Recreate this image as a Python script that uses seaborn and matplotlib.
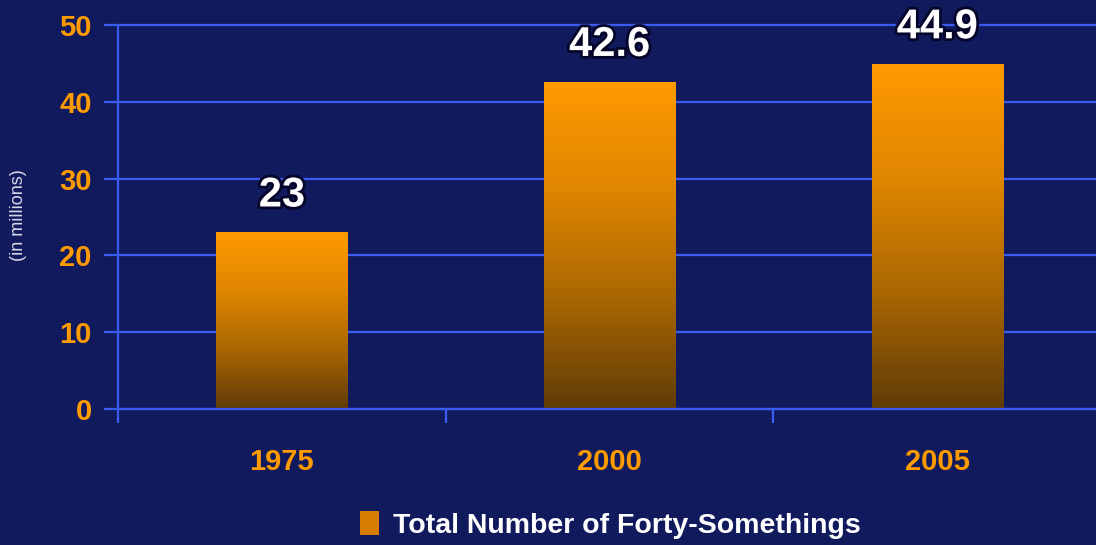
import numpy as np
import pandas as pd
import matplotlib
matplotlib.use('Agg')
import matplotlib.pyplot as plt
import matplotlib.patheffects as pe
from matplotlib.colors import LinearSegmentedColormap
from matplotlib.patches import Patch
import seaborn as sns

# data
years = ['1975', '2000', '2005']
counts = [23, 42.6, 44.9]
value_labels = ['23', '42.6', '44.9']
series_name = 'Total Number of Forty-Somethings'

df = pd.DataFrame({'year': years, 'count': counts})

bg = '#111a5c'
grid_blue = '#3a5cf0'
orange = '#ff9a00'

sns.set_theme(style='dark')
plt.rcParams['font.family'] = ['Liberation Sans', 'DejaVu Sans']

fig = plt.figure(figsize=(10.96, 5.45), dpi=100, facecolor=bg)
ax = fig.add_axes([0.1077, 0.2495, 0.897, 0.7046])
ax.set_facecolor(bg)

sns.barplot(data=df, x='year', y='count', color=orange, width=0.4,
            saturation=1, ax=ax, zorder=3)

# gradient fill: bright orange at top, dark brown at bottom
cmap = LinearSegmentedColormap.from_list('bar', ['#603c08', '#a86602', '#e08600', '#ff9a00'])
grad = np.linspace(0, 1, 256).reshape(-1, 1)
for bar in ax.patches:
    x0, y0 = bar.get_x(), bar.get_y()
    w, h = bar.get_width(), bar.get_height()
    im = ax.imshow(grad, cmap=cmap, aspect='auto', origin='lower',
                   extent=[x0, x0 + w, y0, y0 + h], zorder=4)
    im.set_clip_path(bar)
    bar.set_edgecolor('none')

for i, (v, lab) in enumerate(zip(counts, value_labels)):
    ax.text(i, v + 2.2, lab, ha='center', va='bottom', color='white',
            fontsize=30, fontweight='bold', zorder=6,
            path_effects=[pe.withStroke(linewidth=4, foreground='#05052a')])

ax.set_xlim(-0.5, 2.5)
ax.set_ylim(0, 50)
ax.set_yticks(range(0, 51, 10))
ax.set_xticks([-0.5, 0.5, 1.5, 2.5])
ax.set_xticklabels([])
for i, y in enumerate(years):
    ax.text(i, -6.9, y, ha='center', va='center', color=orange,
            fontsize=21, fontweight='bold')

ax.grid(axis='y', color=grid_blue, linewidth=1.6, zorder=1)
ax.grid(axis='x', visible=False)
for gl in ax.get_ygridlines():
    gl.set_clip_on(False)
ax.axhline(0, color=grid_blue, linewidth=1.6, zorder=5, clip_on=False)
ax.tick_params(axis='y', left=True, colors=grid_blue, length=10, width=1.6,
               labelcolor=orange, labelsize=21, pad=9)
ax.tick_params(axis='x', bottom=True, colors=grid_blue, length=10, width=1.6)
for lbl in ax.get_yticklabels():
    lbl.set_fontweight('bold')
for s in ['top', 'right', 'bottom']:
    ax.spines[s].set_visible(False)
ax.spines['left'].set_color(grid_blue)
ax.spines['left'].set_linewidth(1.6)
ax.set_xlabel('')
ax.set_ylabel('')

fig.text(0.017, 0.605, '(in millions)', rotation=90, ha='center', va='center',
         color='#d8d8e8', fontsize=13)

handle = Patch(facecolor='#d67c00', edgecolor='none')
fig.legend([handle], [series_name], loc='center', bbox_to_anchor=(0.557, 0.037),
           frameon=False, labelcolor='white', handlelength=0.65,
           handleheight=0.95, handletextpad=0.5, prop={'weight': 'bold', 'size': 20.5})

fig.savefig('out.png', dpi=100, facecolor=bg)
